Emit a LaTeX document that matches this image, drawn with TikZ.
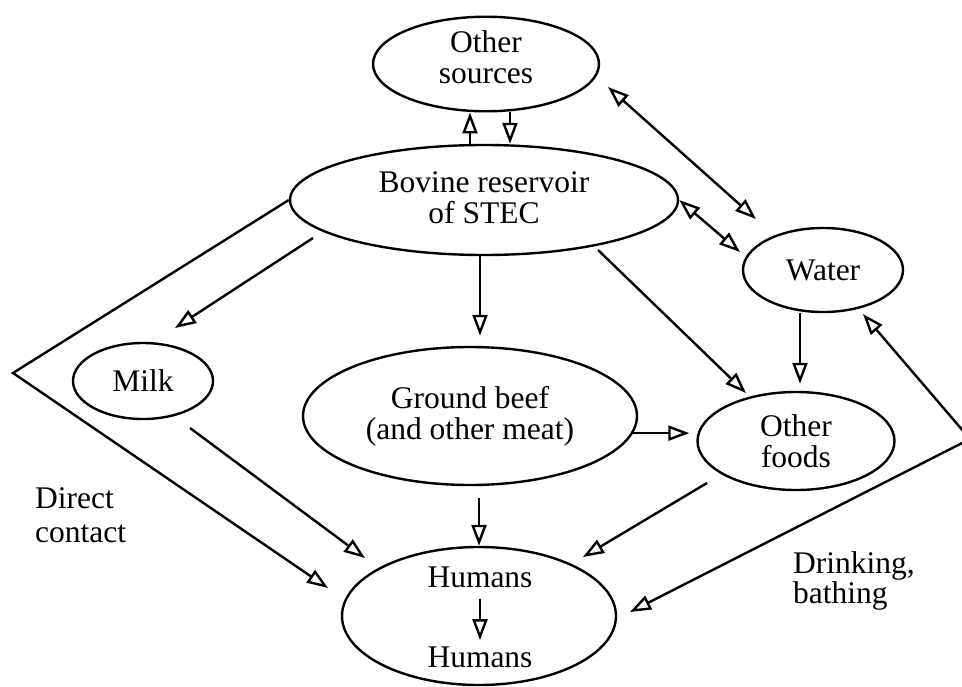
\documentclass[tikz,border=0pt]{standalone}
\usepackage{fontspec}
\setmainfont{Liberation Serif}
\usetikzlibrary{shapes.geometric,arrows.meta}
\begin{document}
\begin{tikzpicture}[x=1pt,y=-1pt,
  ell/.style={draw, ellipse, line width=2.4pt, inner sep=0pt, align=center,
    font=\fontsize{31.5}{31}\selectfont},
  txt/.style={inner sep=0pt, align=left, font=\fontsize{31.5}{32}\selectfont},
  tip/.tip={Triangle[open,length=21pt,width=15pt]},
  arr/.style={line width=2.4pt, -tip},
  darr/.style={line width=2.4pt, tip-tip}]
\useasboundingbox (0,0) rectangle (962,686);

% nodes
\node[ell, minimum width=226pt, minimum height=86pt] (oth) at (486,64) {Other\\sources\rule[-14pt]{0pt}{14pt}};
\node[ell, minimum width=388pt, minimum height=110pt] (bov) at (484,200) {Bovine reservoir\\of STEC\rule[-5pt]{0pt}{5pt}};
\node[ell, minimum width=160pt, minimum height=84pt] (wat) at (823,270) {Water};
\node[ell, minimum width=140pt, minimum height=76pt] (milk) at (143,381) {Milk};
\node[ell, minimum width=334pt, minimum height=138pt] (beef) at (470,416) {Ground beef\\(and other meat)};
\node[ell, minimum width=197pt, minimum height=98pt] (food) at (796,441) {Other\\foods};
\node[ell, minimum width=274pt, minimum height=138pt] (hum) at (479,616) {};
\node[txt, anchor=base] (h1) at (480,587) {Humans};
\node[txt, anchor=base] (h2) at (480,667) {Humans};
\node[txt, anchor=north west, font=\fontsize{31.5}{34}\selectfont] (dc) at (35,487) {Direct\\contact};
\node[txt, anchor=north west, font=\fontsize{31.5}{30}\selectfont] (dr) at (793,551) {Drinking,\\bathing};

% free ends
\coordinate (p3a) at (608,87);
\coordinate (p3b) at (756,219);
\coordinate (p4b) at (740,252);
\coordinate (p5a) at (313,238);
\coordinate (p5b) at (175,328);
\coordinate (p7a) at (598,250);
\coordinate (p7b) at (746,393);
\coordinate (p10a) at (190,428);
\coordinate (p10b) at (365,558);
\coordinate (p11a) at (479,498);
\coordinate (p12a) at (707,483);
\coordinate (p12b) at (583,557);
\coordinate (lc) at (13,373);
\coordinate (p14b) at (328,588);
\coordinate (rc) at (970,439);
\coordinate (p15a) at (630,612);
\coordinate (p15b) at (863,314);

% connectors
\draw[arr] ([xshift=-14pt]bov.north) -- ([xshift=-16pt]oth.south);
\draw[arr] ([xshift=24pt]oth.south) -- ([xshift=26pt]bov.north);
\draw[darr] (p3a) -- (p3b);
\draw[darr] (bov.east) -- (p4b);
\draw[arr] (p5a) -- (p5b);
\draw[arr] ([xshift=-4pt]bov.south) -- ([xshift=10pt,yshift=10pt]beef.north);
\draw[arr] (p7a) -- (p7b);
\draw[arr] ([xshift=-23pt]wat.south) -- ([xshift=4pt,yshift=7pt]food.north);
\draw[arr] (beef.-6) -- ([xshift=-7pt]beef.-6 -| food.west);
\draw[arr] (p10a) -- (p10b);
\draw[arr] (p11a) -- (hum.north);
\draw[arr] (p12a) -- (p12b);
\draw[arr, shorten <=11pt, shorten >=6pt] (h1.south) -- (h2.north);
\draw[arr] (bov.west) -- (lc) -- (p14b);
\draw[darr] (p15a) -- (rc) -- (p15b);
\end{tikzpicture}
\end{document}
